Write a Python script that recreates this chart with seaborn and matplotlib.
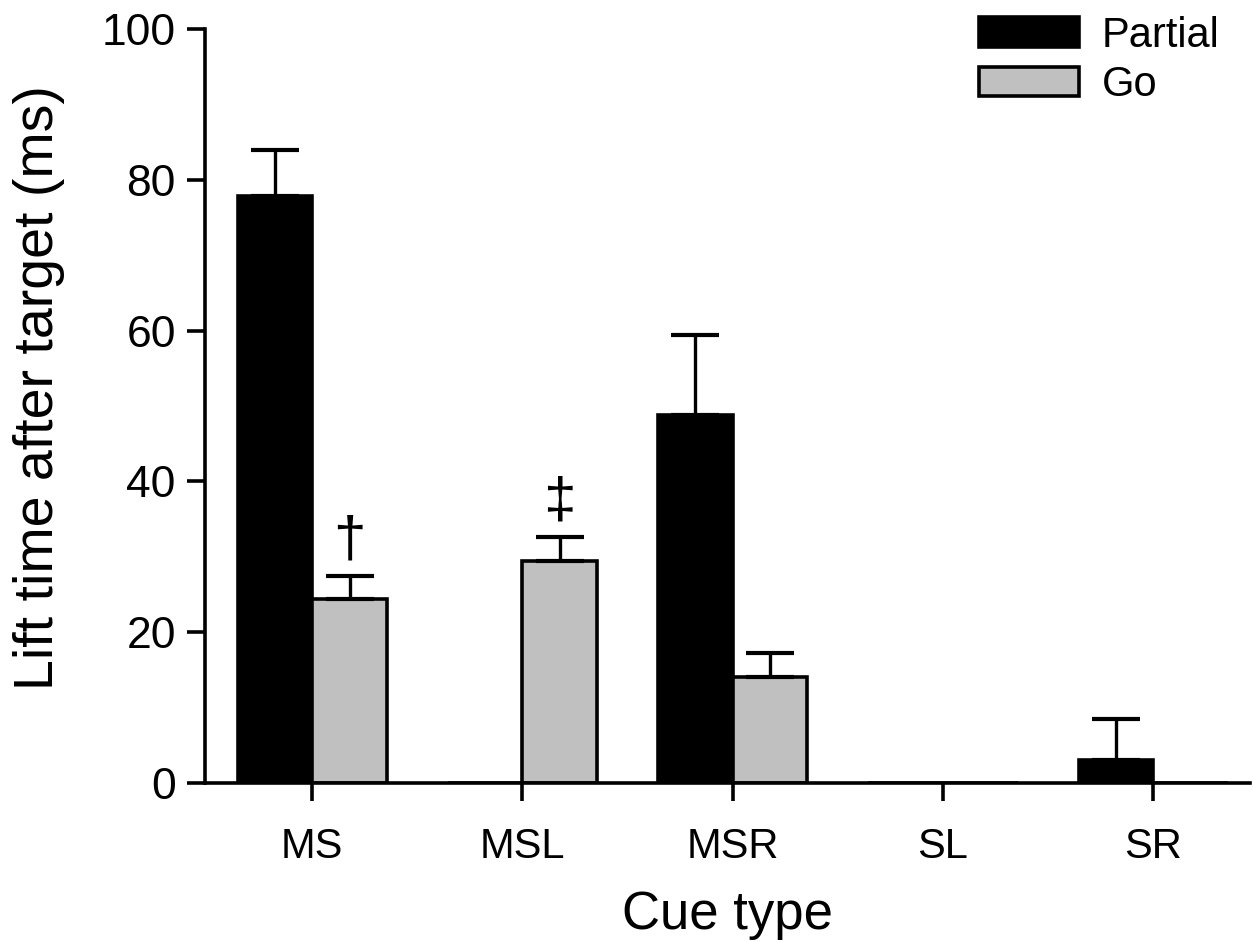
import matplotlib
matplotlib.use("Agg")
import matplotlib.pyplot as plt
import seaborn as sns
import pandas as pd
import numpy as np

categories = ["MS", "MSL", "MSR", "SL", "SR"]
partial_vals = [77.8, 0.0, 48.8, 0.0, 3.1]
partial_err = [6.1, 0.0, 10.6, 0.0, 5.4]
go_vals = [24.4, 29.5, 14.0, 0.0, 0.0]
go_err = [3.0, 3.1, 3.2, 0.0, 0.0]
series = ["Partial", "Go"]
marks = {"MS": "\u2020", "MSL": "\u2021"}

sns.set_theme(style="white")
plt.rcParams['font.family'] = ['Liberation Sans', 'DejaVu Sans']
plt.rcParams['text.color'] = 'black'

df = pd.DataFrame({
    "Cue type": categories * 2,
    "value": partial_vals + go_vals,
    "series": ["Partial"] * 5 + ["Go"] * 5,
})

fig = plt.figure(figsize=(12.53, 9.42), dpi=100)
ax = fig.add_axes([0.1636, 0.1688, 0.834, 0.8004])

sns.barplot(data=df, x="Cue type", y="value", hue="series", hue_order=series,
            order=categories, palette={"Partial": "#000000", "Go": "#C0C0C0"},
            errorbar=None, width=0.71, ax=ax, saturation=1)

errs = {"Partial": partial_err, "Go": go_err}
vals = {"Partial": partial_vals, "Go": go_vals}
for cont, name in zip(ax.containers, series):
    xs = []
    for bar in cont:
        bar.set_edgecolor("black")
        bar.set_linewidth(2.6)
        xs.append(bar.get_x() + bar.get_width() / 2)
    v = np.array(vals[name]); e = np.array(errs[name])
    sel = e > 0
    ax.errorbar(np.array(xs)[sel], v[sel], yerr=[np.zeros(sel.sum()), e[sel]],
                fmt="none", ecolor="black", elinewidth=2.4, capsize=17,
                capthick=3.0, zorder=1)
    if name == "Go":
        for i, c in enumerate(categories):
            if c in marks:
                ax.text(xs[i], v[i] + e[i] + 1.0, marks[c], ha="center",
                        va="bottom", fontsize=42, color="black")

ax.set_ylim(0, 100)
ax.set_xlim(-0.51, 4.46)
ax.set_yticks([0, 20, 40, 60, 80, 100])
ax.set_ylabel("Lift time after target (ms)", fontsize=40, color="black")
ax.yaxis.set_label_coords(-0.134, 0.525)
ax.set_xlabel("Cue type", fontsize=38, labelpad=16, color="black")
ax.tick_params(axis="both", direction="out", length=13, width=2.6,
               colors="black", bottom=True, left=True)
ax.tick_params(axis="y", labelsize=32, pad=8)
ax.tick_params(axis="x", labelsize=30, pad=19)
sns.despine(ax=ax)
for s in ["left", "bottom"]:
    ax.spines[s].set_linewidth(2.6)
    ax.spines[s].set_color("black")

leg = ax.legend(loc="upper right", bbox_to_anchor=(0.987, 1.04), frameon=False,
                fontsize=30, handlelength=2.4, handleheight=0.7,
                handletextpad=0.55, labelspacing=0.22, borderaxespad=0.0)
for h in leg.legend_handles:
    h.set_edgecolor("black")
    h.set_linewidth(2.6)
for t in leg.get_texts():
    t.set_color("black")

fig.savefig("out.png", dpi=100)
